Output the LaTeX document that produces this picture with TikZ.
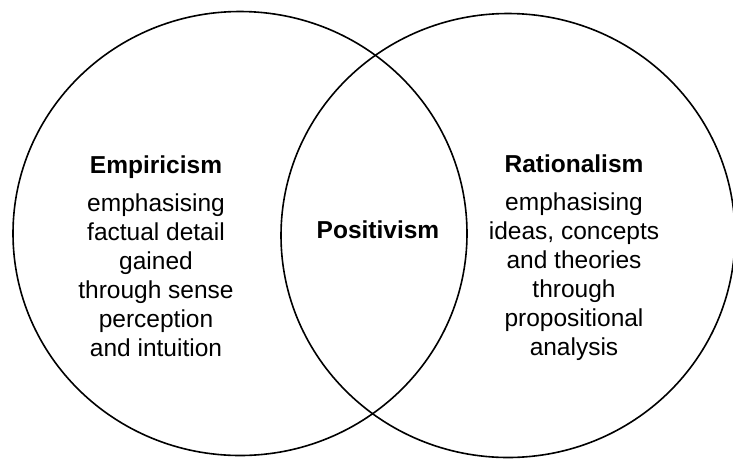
\documentclass[tikz,border=0pt]{standalone}
\usepackage{fontspec}
\setmainfont{Liberation Sans}
\begin{document}
\begin{tikzpicture}[x=1pt,y=-1pt,
  ring/.style={line width=1.6pt, black},
  txt/.style={align=center, inner sep=0pt, anchor=base,
    font=\fontsize{24.5}{29}\selectfont}]
\useasboundingbox (0,0) rectangle (733,459);
\draw[ring] (240,233.5) ellipse [x radius=227, y radius=222];
\draw[ring] (508,235.5) ellipse [x radius=227, y radius=222];
\node[txt] (emp) at (156,356) {\textbf{Empiricism}\\[9pt]emphasising\\factual detail\\gained\\through sense\\perception\\and intuition};
\node[txt] (rat) at (574,355) {\textbf{Rationalism}\\[9pt]emphasising\\ideas, concepts\\and theories\\through\\propositional\\analysis};
\node[txt] (pos) at (378,238) {\textbf{Positivism}};
\end{tikzpicture}
\end{document}
